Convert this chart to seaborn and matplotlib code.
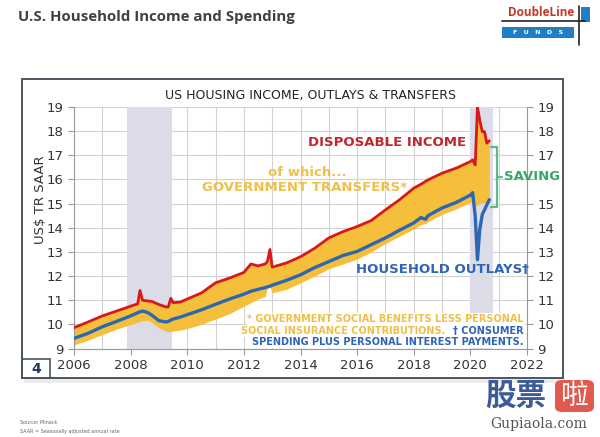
import numpy as np
import pandas as pd
import matplotlib
matplotlib.use("Agg")
import matplotlib.pyplot as plt
import seaborn as sns
from matplotlib.patches import Rectangle, FancyBboxPatch
from matplotlib.lines import Line2D

# ---------------- data (US$ trillions, SAAR) ----------------
dates = [2006.0, 2006.5, 2007.0, 2007.5, 2008.0, 2008.25, 2008.33, 2008.42, 2008.58, 2008.75,
         2009.0, 2009.25, 2009.33, 2009.42, 2009.5, 2009.75, 2010.0, 2010.5, 2011.0, 2011.5,
         2012.0, 2012.25, 2012.5, 2012.75, 2012.83, 2012.92, 2013.0, 2013.5, 2014.0, 2014.5,
         2015.0, 2015.5, 2016.0, 2016.5, 2017.0, 2017.5, 2018.0, 2018.25, 2018.42, 2018.5,
         2019.0, 2019.5, 2020.0, 2020.08, 2020.17, 2020.25, 2020.33, 2020.42, 2020.5, 2020.58,
         2020.67]
disposable_income = [9.86, 10.10, 10.35, 10.55, 10.75, 10.85, 11.40, 11.00, 10.97, 10.95,
                     10.82, 10.72, 10.72, 11.08, 10.90, 10.92, 11.05, 11.30, 11.72, 11.92,
                     12.15, 12.50, 12.42, 12.50, 12.60, 13.10, 12.37, 12.54, 12.80, 13.15,
                     13.58, 13.84, 14.05, 14.30, 14.74, 15.16, 15.64, 15.80, 15.92, 15.98,
                     16.26, 16.47, 16.74, 16.81, 16.60, 19.00, 18.46, 17.98, 17.98, 17.50,
                     17.60]
household_outlays = [9.42, 9.63, 9.90, 10.12, 10.35, 10.48, 10.52, 10.55, 10.50, 10.38,
                     10.15, 10.10, 10.12, 10.18, 10.22, 10.30, 10.40, 10.60, 10.83, 11.05,
                     11.25, 11.37, 11.45, 11.52, 11.55, 11.58, 11.62, 11.82, 12.05, 12.35,
                     12.60, 12.85, 13.02, 13.30, 13.58, 13.90, 14.20, 14.42, 14.35, 14.50,
                     14.82, 15.05, 15.35, 15.45, 14.50, 12.68, 13.92, 14.55, 14.74, 14.95,
                     15.16]
income_less_transfers = [9.15, 9.35, 9.58, 9.80, 10.00, 10.08, 10.12, 10.15, 10.17, 10.08,
                         9.85, 9.72, 9.70, 9.70, 9.72, 9.76, 9.82, 10.00, 10.22, 10.45,
                         10.75, 10.90, 11.05, 11.15, 11.50, 11.55, 11.30, 11.45, 11.72, 12.00,
                         12.30, 12.50, 12.70, 13.00, 13.35, 13.65, 13.95, 14.12, 14.18, 14.25,
                         14.55, 14.78, 15.05, 15.15, 14.95, 14.90, 15.00, 15.00, 15.05, 15.10,
                         15.10]
recession_start = [2007.88, 2020.0]
recession_end = [2009.46, 2020.8]
x_major_ticks = [2006, 2008, 2010, 2012, 2014, 2016, 2018, 2020, 2022]
x_minor_ticks = list(range(2006, 2023))
y_ticks = list(range(9, 20))
right_label_hidden = 16  # covered by the "SAVING" label in the original

df = pd.DataFrame({"date": dates, "income": disposable_income,
                   "outlays": household_outlays, "ex_transfers": income_less_transfers})

# ---------------- style ----------------
sns.set_style("white")
plt.rcParams["font.family"] = ["DejaVu Sans"]

W, H = 600, 437
fig = plt.figure(figsize=(6.0, 4.37), dpi=100)
fig.patch.set_facecolor("white")


def fx(x):
    return x / W


def fy(y):
    return 1 - y / H


# frame around chart + shadow
fig.patches.append(Rectangle((fx(24), fy(383)), fx(565) - fx(24), fy(378) - fy(383),
                             transform=fig.transFigure, fc="#ececec", ec="none", zorder=0))
fig.patches.append(Rectangle((fx(22), fy(378)), fx(563) - fx(22), fy(79) - fy(378),
                             transform=fig.transFigure, fill=False, ec="#4a5560", lw=1.4, zorder=1))
fig.patches.append(Rectangle((fx(22), fy(378)), fx(50) - fx(22), fy(359) - fy(378),
                             transform=fig.transFigure, fill=False, ec="#4a5560", lw=1.2, zorder=1))
fig.text(fx(36), fy(369), "4", ha="center", va="center", fontsize=10, fontweight="bold",
         color="#1f3a5f")

ax = fig.add_axes([fx(74), fy(348.5), (527 - 74) / W, (348.5 - 107) / H])
ax.set_facecolor("white")

for s, e in zip(recession_start, recession_end):
    ax.axvspan(s, e, color="#dcdbe8", lw=0, zorder=1)

ax.fill_between(df["date"], df["ex_transfers"], df["income"], color="#f6bf3b", lw=0, zorder=2)
sns.lineplot(data=df, x="date", y="outlays", color="#2e67b1", lw=2.4, ax=ax, zorder=3)
sns.lineplot(data=df, x="date", y="income", color="#d7191c", lw=2.0, ax=ax, zorder=4)

ax.set_xlim(2006, 2022)
ax.set_ylim(9, 19)
ax.set_xticks(x_major_ticks)
ax.set_xticks(x_minor_ticks, minor=True)
ax.set_yticks(y_ticks)
ax.grid(which="both", color="#d2d2d2", lw=0.8)
ax.set_axisbelow(True)
ax.set_xlabel("")
ax.set_ylabel("")
ax.tick_params(axis="both", which="major", labelsize=9.5, labelcolor="#333333",
               color="#999999", length=4, width=0.8, direction="out")
ax.tick_params(axis="x", which="minor", color="#999999", length=3, width=0.8, direction="out")
ax.tick_params(axis="y", right=True, labelright=True, left=True)
ax.tick_params(axis="x", bottom=True)
for side in ["left", "bottom", "right"]:
    ax.spines[side].set_color("#999999")
    ax.spines[side].set_linewidth(0.8)
ax.spines["top"].set_visible(False)
for tick, val in zip(ax.yaxis.get_major_ticks(), y_ticks):
    if val == right_label_hidden:
        tick.label2.set_visible(False)

fig.text(fx(40), fy(200), "US$ TR SAAR", rotation=90, ha="center", va="center",
         fontsize=9.5, color="#333333")

# chart title
fig.text(fx(310), fy(96), "US HOUSING INCOME, OUTLAYS & TRANSFERS", ha="center", va="center",
         fontsize=9, color="#222222")

# annotations
fig.text(fx(466), fy(143), "DISPOSABLE INCOME", ha="right", va="center", fontsize=9.5,
         fontweight="bold", color="#c0272d")
fig.text(fx(307), fy(173), "of which...", ha="center", va="center", fontsize=9.5,
         fontweight="bold", color="#eec04a")
fig.text(fx(305), fy(188), "GOVERNMENT TRANSFERS*", ha="center", va="center", fontsize=9.5,
         fontweight="bold", color="#eec04a")
fig.text(fx(504), fy(177), "SAVING", ha="left", va="center", fontsize=9.5,
         fontweight="bold", color="#3aa56a", zorder=5)
green = "#5cb98a"
for seg in [((497, 497), (147, 207)), ((491, 497), (147, 147)), ((491, 497), (207, 207)),
            ((497, 502), (177, 177))]:
    fig.add_artist(Line2D([fx(v) for v in seg[0]], [fy(v) for v in seg[1]],
                          transform=fig.transFigure, color=green, lw=1.6))
fig.text(fx(529), fy(270), "HOUSEHOLD OUTLAYS\u2020", ha="right", va="center", fontsize=9.5,
         fontweight="bold", color="#2f64b5")

# footnotes
fig.text(fx(524), fy(319), "* GOVERNMENT SOCIAL BENEFITS LESS PERSONAL", ha="right", va="center",
         fontsize=7, fontweight="bold", color="#eec04a",
         bbox=dict(fc="white", ec="none", pad=0.5))
fig.text(fx(445), fy(331), "SOCIAL INSURANCE CONTRIBUTIONS.", ha="right", va="center",
         fontsize=7, fontweight="bold", color="#eec04a",
         bbox=dict(fc="white", ec="none", pad=0.5))
fig.text(fx(524), fy(331), "\u2020 CONSUMER", ha="right", va="center",
         fontsize=7, fontweight="bold", color="#2f64b5",
         bbox=dict(fc="white", ec="none", pad=0.5))
fig.text(fx(524), fy(342), "SPENDING PLUS PERSONAL INTEREST PAYMENTS.", ha="right", va="center",
         fontsize=7, fontweight="bold", color="#2f64b5",
         bbox=dict(fc="white", ec="none", pad=0.5))

# page title
fig.text(fx(18), fy(17), "U.S. Household Income and Spending", ha="left", va="center",
         fontsize=10.8, fontweight="bold", color="#404040", family=["Open Sans", "DejaVu Sans"])

# logo
fig.text(fx(541), fy(13), "DoubleLine", ha="center", va="center", fontsize=8.5,
         fontweight="bold", color="#c0392b", family=["Open Sans", "DejaVu Sans"])
fig.add_artist(Line2D([fx(502), fx(585)], [fy(21), fy(21)], transform=fig.transFigure,
                      color="#222222", lw=1.2))
fig.patches.append(Rectangle((fx(502), fy(38)), fx(574) - fx(502), fy(27) - fy(38),
                             transform=fig.transFigure, fc="#1f7fc4", ec="none"))
fig.text(fx(538), fy(32.5), "F   U   N   D   S", ha="center", va="center", fontsize=4.5,
         color="white", fontweight="bold")
fig.add_artist(Line2D([fx(579), fx(579)], [fy(6), fy(45)], transform=fig.transFigure,
                      color="#222222", lw=1.2))
fig.patches.append(Rectangle((fx(581), fy(22)), fx(590) - fx(581), fy(7) - fy(22),
                             transform=fig.transFigure, fc="#1f7fc4", ec="none"))

# source
fig.text(fx(20), fy(423), "Source: Minack", ha="left", va="center", fontsize=3.5, color="#666666")
fig.text(fx(20), fy(432), "SAAR = Seasonally adjusted annual rate", ha="left", va="center",
         fontsize=3.5, color="#666666")

# watermark
fig.text(fx(516), fy(396), "\u80a1\u7968", ha="center", va="center", fontsize=22,
         fontweight="bold", color="#3d5a99", family=["Noto Sans CJK SC", "DejaVu Sans"])
fig.patches.append(FancyBboxPatch((fx(555), fy(412)), fx(594) - fx(555), fy(380) - fy(412),
                                  boxstyle="round,pad=0,rounding_size=0.012",
                                  transform=fig.transFigure, fc="#e05a4e", ec="none"))
fig.text(fx(574.5), fy(396), "\u5566", ha="center", va="center", fontsize=20,
         color="white", family=["Noto Sans CJK SC", "DejaVu Sans"])
fig.text(fx(539), fy(424), "Gupiaola.com", ha="center", va="center", fontsize=10,
         color="#555555", family=["DejaVu Serif"])

fig.savefig("out.png", dpi=100, facecolor="white")
